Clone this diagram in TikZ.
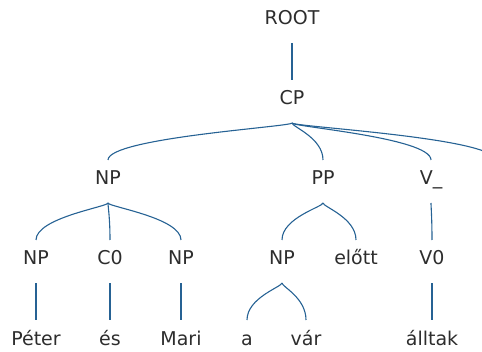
\documentclass[tikz,border=0pt]{standalone}
\usepackage{fontspec}
\setmainfont{DejaVu Sans}
\usetikzlibrary{calc}
\definecolor{edgecol}{RGB}{38,98,148}
\definecolor{txtcol}{RGB}{45,45,45}
\tikzset{
  lab/.style={anchor=base, inner sep=0pt, outer sep=0pt, text height=25pt, text depth=18pt, text=txtcol, font=\fontsize{19}{22}\selectfont},
  branch/.style={draw=edgecol, line width=1.1pt}
}
\newcommand\tedge[2]{\draw[branch] (#1.south) .. controls ($(#1.south)!0.1!(#1.south|-#2.north)$) and ($(#2.north|-#1.south)!0.4!(#2.north)$) .. (#2.north);}
\begin{document}
\begin{tikzpicture}[x=1pt,y=1pt]
\useasboundingbox (0,0) rectangle (482,351);
\node[lab] (root) at (292,326) {ROOT};
\node[lab] (cp) at (292,246) {CP};
\node[lab] (np1) at (108,166) {NP};
\node[lab] (pp) at (323,166) {PP};
\node[lab] (vbar) at (431,166) {V\_};
\coordinate (cpx) at (495,191);
\node[lab] (np2) at (36,86) {NP};
\node[lab] (c0) at (110,86) {C0};
\node[lab] (np3) at (181,86) {NP};
\node[lab] (np4) at (282,86) {NP};
\node[lab] (elott) at (356,86) {előtt};
\node[lab] (v0) at (432,86) {V0};
\node[lab] (peter) at (36,6) {Péter};
\node[lab] (es) at (110,6) {és};
\node[lab] (mari) at (181,6) {Mari};
\node[lab] (a) at (247,6) {a};
\node[lab] (var) at (306,6) {vár};
\node[lab] (alltak) at (432,6) {álltak};
\tedge{root}{cp}
\tedge{cp}{np1}
\tedge{cp}{pp}
\tedge{cp}{vbar}
\draw[branch] (cp.south) .. controls ($(cp.south)!0.1!(cp.south|-cpx)$) and ($(cpx|-cp.south)!0.4!(cpx)$) .. (cpx);
\tedge{np1}{np2}
\tedge{np1}{c0}
\tedge{np1}{np3}
\tedge{pp}{np4}
\tedge{pp}{elott}
\tedge{vbar}{v0}
\tedge{np2}{peter}
\tedge{c0}{es}
\tedge{np3}{mari}
\tedge{np4}{a}
\tedge{np4}{var}
\tedge{v0}{alltak}
\end{tikzpicture}
\end{document}
